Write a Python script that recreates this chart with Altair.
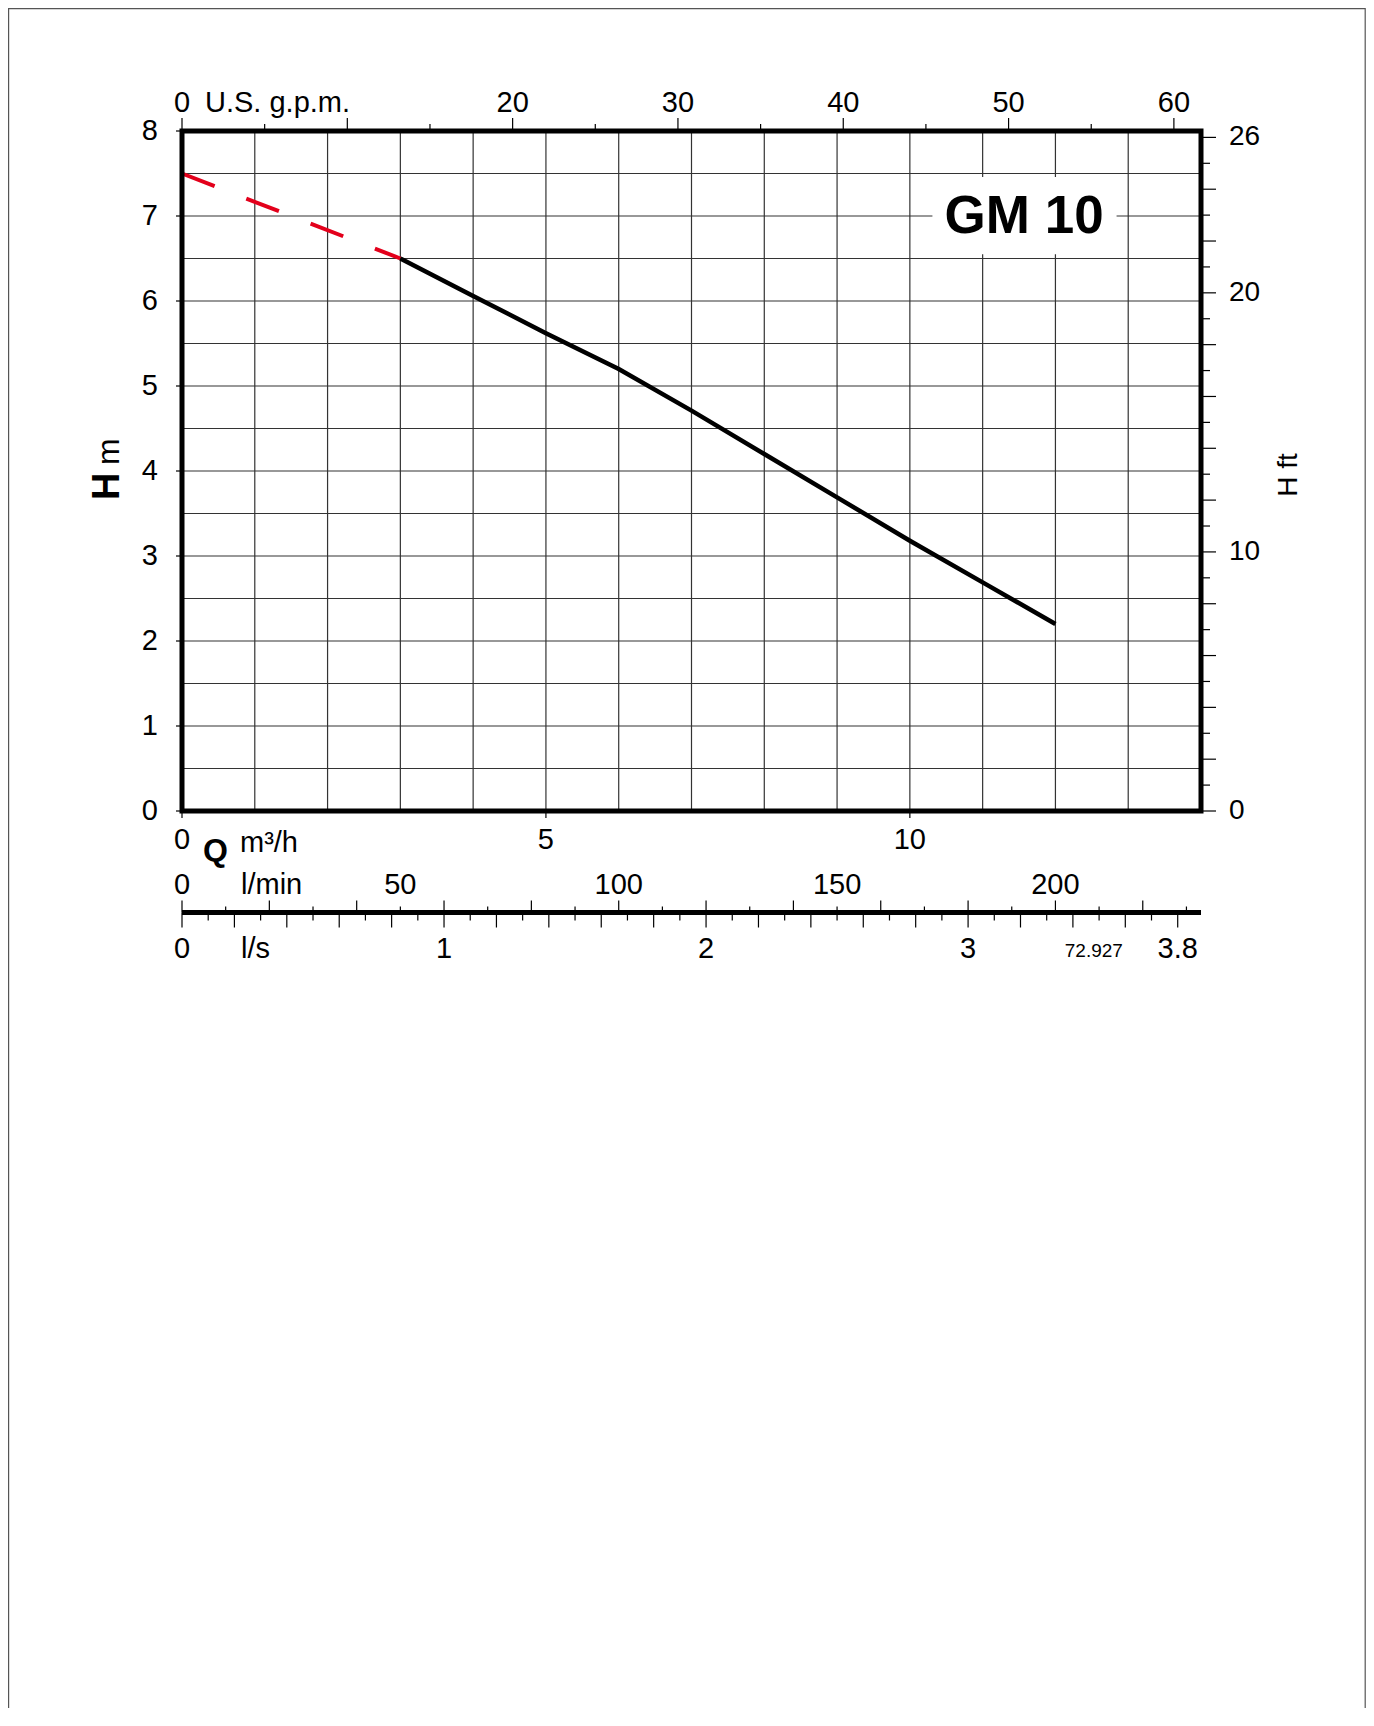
import altair as alt
import pandas as pd

# ---------------- data ----------------
# pump curve: Q in m3/h, H in m
q_dash = [0.0, 3.0]
h_dash = [7.5, 6.5]
q_curve = [3, 4, 5, 6, 7, 8, 9, 10, 11, 12]
h_curve = [6.5, 6.06, 5.62, 5.2, 4.71, 4.2, 3.69, 3.18, 2.69, 2.2]

# grid / main axes
q_grid = list(range(1, 14))
h_grid = [i * 0.5 for i in range(1, 16)]
h_ticks = list(range(0, 9))
h_labels = [str(v) for v in range(0, 9)]
q_ticks = [0, 5, 10]
q_labels = ["0", "5", "10"]

# secondary scales
gpm_ticks = list(range(0, 61, 5))
gpm_label_vals = [0, 20, 30, 40, 50, 60]
gpm_label_txt = ["0", "20", "30", "40", "50", "60"]
ft_ticks = list(range(0, 27))
ft_label_vals = [0, 10, 20, 26]
ft_label_txt = ["0", "10", "20", "26"]
lmin_ticks = list(range(0, 231, 10))
lmin_label_vals = [0, 50, 100, 150, 200]
lmin_label_txt = ["0", "50", "100", "150", "200"]
ls_ticks = [i / 10 for i in range(0, 39)]
ls_label_vals = [0, 1, 2, 3, 3.8]
ls_label_txt = ["0", "1", "2", "3", "3.8"]

model_name = ["GM 10"]
model_q = [11.57]
model_h = [6.8]
box_q = [10.31, 12.84]
box_h = [6.55, 7.46]
code_txt = ["72.927"]
code_ls = [3.48]

# ---------------- layout / style ----------------
W, H = 1019, 680
PAD = {"left": 174, "top": 123, "right": 165, "bottom": 897}
FONT = "Liberation Sans, Arial, sans-serif"
RED = "#e3001b"
GRID = "#333333"

xs = alt.Scale(domain=[0, 14], nice=False, zero=False)
ys = alt.Scale(domain=[0, 8], nice=False, zero=False)


def X(f="q"):
    return alt.X(f"{f}:Q", scale=xs, axis=None)


def Y(f="h"):
    return alt.Y(f"{f}:Q", scale=ys, axis=None)


one = pd.DataFrame({"k": [0]})

border = alt.Chart(one).mark_rect(fillOpacity=0, stroke="#555555", strokeWidth=1.2).encode(
    x=alt.value(-173.4), x2=alt.value(W + PAD["right"] - 0.8),
    y=alt.value(-122.4), y2=alt.value(H + PAD["bottom"] + 40))

vgrid = alt.Chart(pd.DataFrame({"q": q_grid})).mark_rule(color=GRID, strokeWidth=1.2).encode(x=X())
hgrid = alt.Chart(pd.DataFrame({"h": h_grid})).mark_rule(color=GRID, strokeWidth=1.2).encode(y=Y())

box = alt.Chart(pd.DataFrame({"q0": [box_q[0]], "q1": [box_q[1]], "h0": [box_h[0]], "h1": [box_h[1]]})).mark_rect(
    fill="white").encode(x=X("q0"), x2="q1:Q", y=Y("h0"), y2="h1:Q")

dash = alt.Chart(pd.DataFrame({"q": q_dash, "h": h_dash})).mark_line(
    color=RED, strokeWidth=4, strokeDash=[35, 34], strokeCap="butt").encode(x=X(), y=Y())

curve = alt.Chart(pd.DataFrame({"q": q_curve, "h": h_curve})).mark_line(
    color="black", strokeWidth=4.5).encode(x=X(), y=Y())

model = alt.Chart(pd.DataFrame({"q": model_q, "h": model_h, "t": model_name})).mark_text(
    font=FONT, fontWeight="bold", fontSize=53, align="center", baseline="alphabetic", color="black"
).encode(x=X(), y=Y(), text="t:N")

frame = alt.Chart(pd.DataFrame({"q0": [0], "q1": [14], "h0": [0], "h1": [8]})).mark_rect(
    fillOpacity=0, stroke="black", strokeWidth=5).encode(x=X("q0"), x2="q1:Q", y=Y("h0"), y2="h1:Q")

# ---- left H m axis ----
ht = alt.Chart(pd.DataFrame({"h": h_ticks})).mark_rule(color="black", strokeWidth=1.2).encode(
    y=Y(), x=alt.value(0), x2=alt.value(-6))
hl = alt.Chart(pd.DataFrame({"h": h_ticks, "t": h_labels})).mark_text(
    font=FONT, fontSize=29, align="right", baseline="middle", color="black").encode(
    y=Y(), x=alt.value(-24), text="t:N")

# ---- bottom m3/h axis ----
qt = alt.Chart(pd.DataFrame({"q": q_ticks})).mark_rule(color="black", strokeWidth=1.2).encode(
    x=X(), y=alt.value(H), y2=alt.value(H + 7))
ql = alt.Chart(pd.DataFrame({"q": q_ticks, "t": q_labels})).mark_text(
    font=FONT, fontSize=29, align="center", baseline="alphabetic", color="black").encode(
    x=X(), y=alt.value(718), text="t:N")

# ---- top US gpm axis ----
gpm = alt.Chart(pd.DataFrame({"g": gpm_ticks})).transform_calculate(
    q="datum.g / 4.402868", long="datum.g % 10 == 0")
gpm_long = gpm.transform_filter("datum.long").mark_rule(color="black", strokeWidth=1.2).encode(
    x=X(), y=alt.value(0), y2=alt.value(-13))
gpm_short = gpm.transform_filter("!datum.long").mark_rule(color="black", strokeWidth=1.2).encode(
    x=X(), y=alt.value(0), y2=alt.value(-7))
gpm_lbl = alt.Chart(pd.DataFrame({"g": gpm_label_vals, "t": gpm_label_txt})).transform_calculate(
    q="datum.g / 4.402868").mark_text(
    font=FONT, fontSize=29, align="center", baseline="alphabetic", color="black").encode(
    x=X(), y=alt.value(-19), text="t:N")
gpm_unit = alt.Chart(one).mark_text(
    font=FONT, fontSize=29, align="left", baseline="alphabetic", color="black", text="U.S. g.p.m.").encode(
    x=alt.value(23), y=alt.value(-19))

# ---- right ft axis ----
ft = alt.Chart(pd.DataFrame({"f": ft_ticks})).transform_calculate(
    h="datum.f * 0.3048", long="datum.f % 2 == 0")
ft_long = ft.transform_filter("datum.long").mark_rule(color="black", strokeWidth=1.2).encode(
    y=Y(), x=alt.value(W), x2=alt.value(W + 15))
ft_short = ft.transform_filter("!datum.long").mark_rule(color="black", strokeWidth=1.2).encode(
    y=Y(), x=alt.value(W), x2=alt.value(W + 9))
ft_lbl = alt.Chart(pd.DataFrame({"f": ft_label_vals, "t": ft_label_txt})).transform_calculate(
    h="datum.f * 0.3048").mark_text(
    font=FONT, fontSize=28, align="left", baseline="middle", color="black").encode(
    y=Y(), x=alt.value(W + 28), text="t:N")

# ---- l/min & l/s scale below ----
YL = 781.5
qline = alt.Chart(pd.DataFrame({"q0": [0], "q1": [14]})).mark_rule(color="black", strokeWidth=5).encode(
    x=X("q0"), x2="q1:Q", y=alt.value(YL))
lmin = alt.Chart(pd.DataFrame({"l": lmin_ticks})).transform_calculate(
    q="datum.l * 0.06", long="datum.l % 20 == 0")
lmin_long = lmin.transform_filter("datum.long").mark_rule(color="black", strokeWidth=1.2).encode(
    x=X(), y=alt.value(YL), y2=alt.value(YL - 12))
lmin_short = lmin.transform_filter("!datum.long").mark_rule(color="black", strokeWidth=1.2).encode(
    x=X(), y=alt.value(YL), y2=alt.value(YL - 6))
lmin_lbl = alt.Chart(pd.DataFrame({"l": lmin_label_vals, "t": lmin_label_txt})).transform_calculate(
    q="datum.l * 0.06").mark_text(
    font=FONT, fontSize=29, align="center", baseline="alphabetic", color="black").encode(
    x=X(), y=alt.value(763), text="t:N")

ls = alt.Chart(pd.DataFrame({"s": ls_ticks})).transform_calculate(
    q="datum.s * 3.6", long="round(datum.s * 10) % 2 == 0")
ls_long = ls.transform_filter("datum.long").mark_rule(color="black", strokeWidth=1.2).encode(
    x=X(), y=alt.value(YL), y2=alt.value(YL + 15))
ls_short = ls.transform_filter("!datum.long").mark_rule(color="black", strokeWidth=1.2).encode(
    x=X(), y=alt.value(YL), y2=alt.value(YL + 8))
ls_lbl = alt.Chart(pd.DataFrame({"s": ls_label_vals, "t": ls_label_txt})).transform_calculate(
    q="datum.s * 3.6").mark_text(
    font=FONT, fontSize=29, align="center", baseline="alphabetic", color="black").encode(
    x=X(), y=alt.value(827), text="t:N")
code = alt.Chart(pd.DataFrame({"s": code_ls, "t": code_txt})).transform_calculate(
    q="datum.s * 3.6").mark_text(
    font=FONT, fontSize=19, align="center", baseline="alphabetic", color="black").encode(
    x=X(), y=alt.value(826), text="t:N")

# ---- unit titles ----
def txt(t, x, y, size, weight="normal", align="left", angle=0):
    return alt.Chart(one).mark_text(
        text=t, font=FONT, fontSize=size, fontWeight=weight, align=align,
        baseline="alphabetic", angle=angle, color="black").encode(x=alt.value(x), y=alt.value(y))

t_Q = txt("Q", 21, 730, 32, "bold")
t_m3h = txt("m³/h", 58, 720.5, 29)
t_lmin = txt("l/min", 59, 763, 29)
t_ls = txt("l/s", 59, 827, 29)
t_H = txt("H", -63.5, 369, 38, "bold", angle=270)
t_m = txt("m", -63.5, 334, 32, angle=270)
t_Hft = txt("H ft", 1115, 344, 28, align="center", angle=270)

chart = alt.layer(
    border, vgrid, hgrid, box, dash, curve, model, frame,
    ht, hl, qt, ql, gpm_long, gpm_short, gpm_lbl, gpm_unit,
    ft_long, ft_short, ft_lbl,
    qline, lmin_long, lmin_short, lmin_lbl, ls_long, ls_short, ls_lbl, code,
    t_Q, t_m3h, t_lmin, t_ls, t_H, t_m, t_Hft,
).properties(
    width=W, height=H, padding=PAD,
    autosize=alt.AutoSizeParams(type="none"),
    background="white",
).configure_view(strokeWidth=0)

chart.save("out.html", embed_options={"renderer": "svg", "actions": False})
